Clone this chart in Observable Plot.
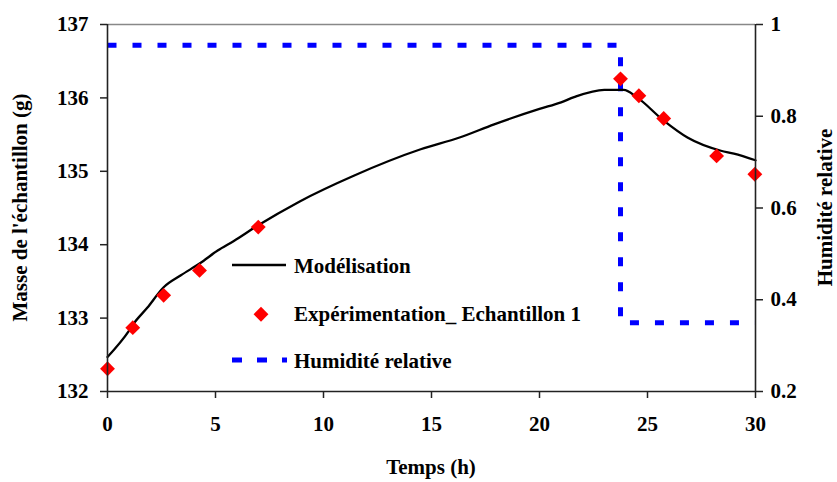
<!DOCTYPE html>
<html>
<head>
<meta charset="utf-8">
<script src="https://cdn.jsdelivr.net/npm/d3@7"></script>
<script src="https://cdn.jsdelivr.net/npm/@observablehq/plot@0.6"></script>
<style>
  html, body { margin: 0; padding: 0; background: #fff; }
  #chart { width: 837px; height: 482px; }
</style>
</head>
<body>
<div id="chart"></div>
<script>
// ---- data ----
const modelT    = [0, 1.0, 1.2, 1.84, 2.6, 3.38, 4.3, 5.1, 5.85, 6.9, 8.9, 11.4, 14.5, 16.3, 17.9, 20.0, 21.0, 21.6, 23.0, 23.9, 24.5, 25.75, 26.85, 28.4, 29.0, 30.0];
const modelMass = [132.47, 132.83, 132.92, 133.14, 133.42, 133.58, 133.75, 133.92, 134.05, 134.25, 134.59, 134.94, 135.30, 135.46, 135.64, 135.85, 135.94, 136.01, 136.11, 136.11, 136.01, 135.69, 135.46, 135.28, 135.24, 135.15];

const expT    = [0, 1.17, 2.6, 4.26, 6.98, 23.75, 24.6, 25.75, 28.2, 29.97];
const expMass = [132.31, 132.87, 133.31, 133.65, 134.24, 136.26, 136.03, 135.72, 135.21, 134.96];

const humT  = [0, 23.75, 23.75, 30];
const humRH = [0.955, 0.955, 0.35, 0.35];

const xTicks    = [0, 5, 10, 15, 20, 25, 30];
const massTicks = [132, 133, 134, 135, 136, 137];
const rhTicks   = [0.2, 0.4, 0.6, 0.8, 1];

const legendLabels = ["Modélisation", "Expérimentation_ Echantillon 1", "Humidité relative"];
const xTitle = "Temps (h)";
const yTitle = "Masse de l'échantillon (g)";
const y2Title = "Humidité relative";

// ---- tables ----
const model = modelT.map((t, i) => ({t, m: modelMass[i]}));
const exp = expT.map((t, i) => ({t, m: expMass[i]}));
const hum = humT.map((t, i) => ({t, rh: humRH[i]}));
// map the right-hand (humidity) scale onto the left (mass) scale
const rhToMass = rh => 132 + (rh - 0.2) * (5 / 0.8);
const massToRh = m => 0.2 + (m - 132) * (0.8 / 5);

const font = "'Liberation Serif', 'Times New Roman', serif";

const chart = Plot.plot({
  width: 837,
  height: 482,
  marginLeft: 107,
  marginRight: 82,
  marginTop: 24,
  marginBottom: 91,
  style: {fontFamily: font, fontSize: "21px", fontWeight: "bold", color: "#000", background: "#fff", overflow: "visible"},
  x: {domain: [0, 30]},
  y: {domain: [132, 137]},
  marks: [
    Plot.ruleY([137], {stroke: "#888", strokeWidth: 1.5}),
    Plot.line(hum, {x: "t", y: d => rhToMass(d.rh), stroke: "#0000ff", strokeWidth: 5, strokeDasharray: "9,16", strokeLinecap: "butt", strokeLinejoin: "miter"}),
    Plot.line(model, {x: "t", y: "m", stroke: "#000", strokeWidth: 2.3, curve: "monotone-x"}),
    Plot.dot(exp, {x: "t", y: "m", symbol: "diamond2", r: 6.7, fill: "#ff0000", stroke: "none"}),
    Plot.ruleX([0], {stroke: "#222", strokeWidth: 1.6}),
    Plot.ruleX([30], {stroke: "#222", strokeWidth: 1.6}),
    Plot.ruleY([132], {stroke: "#222", strokeWidth: 1.6}),
    Plot.axisX({ticks: xTicks, tickFormat: d => String(d), tickSize: 7, tickPadding: 18, label: null, stroke: "#222", strokeWidth: 1.5}),
    Plot.axisY({anchor: "left", ticks: massTicks, tickFormat: d => String(d), tickSize: 7, tickPadding: 12, label: null, stroke: "#222", strokeWidth: 1.5}),
    Plot.axisY({anchor: "right", ticks: rhTicks.map(rhToMass), tickFormat: m => String(+massToRh(m).toFixed(1)), tickSize: 7, tickPadding: 8, label: null, stroke: "#222", strokeWidth: 1.5})
  ]
});

document.getElementById("chart").appendChild(chart);

// ---- titles and legend ----
const svg = d3.select(chart);
const g = svg.append("g").attr("font-family", font).attr("font-weight", "bold").attr("font-size", 21).attr("fill", "#000").attr("text-anchor", "start");

g.append("text").attr("transform", "translate(27,207.5) rotate(-90)").attr("text-anchor", "middle").text(yTitle);
g.append("text").attr("transform", "translate(832,207.5) rotate(-90)").attr("text-anchor", "middle").text(y2Title);
g.append("text").attr("x", 431).attr("y", 474).attr("text-anchor", "middle").text(xTitle);

// legend
g.append("line").attr("x1", 232).attr("x2", 286).attr("y1", 265).attr("y2", 265).attr("stroke", "#000").attr("stroke-width", 2.3);
g.append("text").attr("x", 294).attr("y", 272.5).attr("text-anchor", "start").text(legendLabels[0]);
g.append("path").attr("transform", "translate(261,314.3)").attr("d", d3.symbol(d3.symbolDiamond2, Math.PI * 6.7 * 6.7)()).attr("fill", "#ff0000");
g.append("text").attr("x", 294).attr("y", 320.7).attr("text-anchor", "start").text(legendLabels[1]);
g.append("line").attr("x1", 232).attr("x2", 287).attr("y1", 360).attr("y2", 360).attr("stroke", "#0000ff").attr("stroke-width", 5).attr("stroke-dasharray", "10,15");
g.append("text").attr("x", 294).attr("y", 368).attr("text-anchor", "start").text(legendLabels[2]);
</script>
</body>
</html>
